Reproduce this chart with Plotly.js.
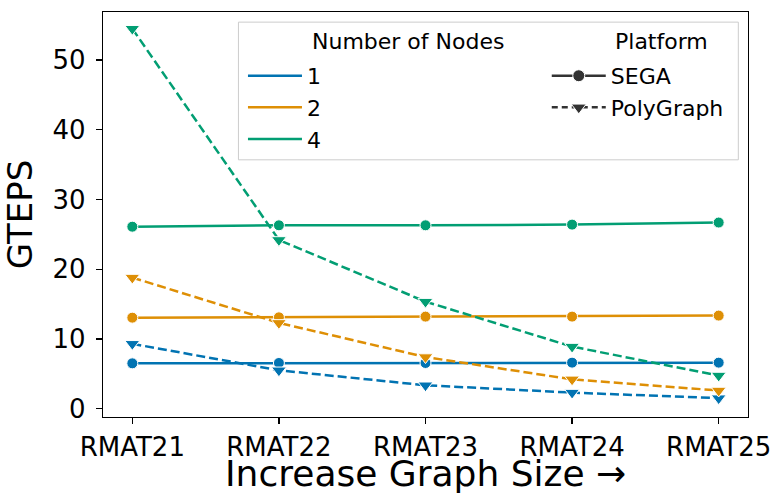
<!DOCTYPE html>
<html>
<head>
<meta charset="utf-8">
<script src="https://cdn.plot.ly/plotly-3.0.1.min.js"></script>
<style>html,body{margin:0;padding:0;background:#fff;}#chart{width:776px;height:497px;}</style>
</head>
<body>
<div id="chart"></div>
<script>
const categories = ["RMAT21", "RMAT22", "RMAT23", "RMAT24", "RMAT25"];
const nodeCounts = ["1", "2", "4"];
const platforms = ["SEGA", "PolyGraph"];
const sega1 = [6.5, 6.55, 6.55, 6.6, 6.6];
const sega2 = [13.05, 13.1, 13.2, 13.2, 13.35];
const sega4 = [26.1, 26.3, 26.3, 26.4, 26.7];
const poly1 = [9.3, 5.5, 3.35, 2.3, 1.5];
const poly2 = [18.8, 12.3, 7.4, 4.2, 2.6];
const poly4 = [54.5, 24.2, 15.35, 8.9, 4.75];
const xTitle = "Increase Graph Size \u2192";
const yTitle = "GTEPS";

const colors = {"1": "#0173b2", "2": "#de8f05", "4": "#029e73"};
const series = [
  {node: "1", platform: "SEGA", y: sega1},
  {node: "2", platform: "SEGA", y: sega2},
  {node: "4", platform: "SEGA", y: sega4},
  {node: "1", platform: "PolyGraph", y: poly1},
  {node: "2", platform: "PolyGraph", y: poly2},
  {node: "4", platform: "PolyGraph", y: poly4}
];
const dashStyle = "9px,4px";

const traces = series.map(s => ({
  type: "scatter", mode: "lines+markers",
  x: categories, y: s.y, showlegend: false, hoverinfo: "skip",
  line: {color: colors[s.node], width: 2.5, dash: s.platform === "SEGA" ? "solid" : dashStyle},
  marker: {color: colors[s.node], size: s.platform === "SEGA" ? 11 : 13,
           symbol: s.platform === "SEGA" ? "circle" : "triangle-down",
           line: {color: "#fff", width: 1}}
}));

nodeCounts.forEach(n => traces.push({
  type: "scatter", mode: "lines", x: [null], y: [null], name: n,
  legend: "legend", legendgroup: "n" + n, showlegend: true,
  line: {color: colors[n], width: 2.5}
}));
platforms.forEach(p => traces.push({
  type: "scatter", mode: "lines+markers", x: [null], y: [null], name: p,
  legend: "legend2", legendgroup: "p" + p, showlegend: true,
  line: {color: "#333333", width: 2.5, dash: p === "SEGA" ? "solid" : "6px,4px"},
  marker: {color: "#333333", size: p === "SEGA" ? 12 : 13, symbol: p === "SEGA" ? "circle" : "triangle-down",
           line: {color: "#fff", width: 1}}
}));

const font = "DejaVu Sans, sans-serif";
const layout = {
  width: 776, height: 497,
  margin: {l: 103, r: 28, t: 12, b: 80},
  paper_bgcolor: "#fff", plot_bgcolor: "#fff",
  font: {family: font, color: "#000"},
  xaxis: {
    type: "category", range: [-0.2, 4.2],
    showline: true, mirror: true, linecolor: "#000", linewidth: 1.3,
    ticks: "outside", ticklen: 6, tickwidth: 1.3, tickcolor: "#000",
    showgrid: false, zeroline: false,
    tickfont: {size: 26, family: font}
  },
  yaxis: {
    range: [-1.2, 56.9], tickvals: [0, 10, 20, 30, 40, 50],
    showline: true, mirror: true, linecolor: "#000", linewidth: 1.3,
    ticks: "outside", ticklen: 6, tickwidth: 1.3, tickcolor: "#000",
    showgrid: false, zeroline: false, ticklabelstandoff: 5,
    tickfont: {size: 26, family: font},
    title: {text: yTitle, font: {size: 34, family: font}, standoff: 11}
  },
  legend: {
    x: 0.217, y: 0.894, xanchor: "left", yanchor: "top",
    bgcolor: "rgba(0,0,0,0)", borderwidth: 0,
    font: {size: 22, family: font}, tracegroupgap: 0, itemwidth: 54
  },
  legend2: {
    x: 0.688, y: 0.894, xanchor: "left", yanchor: "top",
    bgcolor: "rgba(0,0,0,0)", borderwidth: 0,
    font: {size: 22, family: font}, tracegroupgap: 0, itemwidth: 54
  },
  shapes: [{
    type: "rect", xref: "paper", yref: "paper",
    x0: 0.21, x1: 0.985, y0: 0.635, y1: 0.975,
    line: {color: "#cccccc", width: 1}, fillcolor: "rgba(255,255,255,0.8)", layer: "below"
  }],
  annotations: [
    {xref: "paper", yref: "paper", x: 0.321, y: 0.963, xanchor: "left", yanchor: "top",
     text: "Number of Nodes", showarrow: false, font: {size: 22, family: font}},
    {xref: "paper", yref: "paper", x: 0.791, y: 0.963, xanchor: "left", yanchor: "top",
     text: "Platform", showarrow: false, font: {size: 22, family: font}},
    {xref: "paper", yref: "paper", x: 0.5, y: -0.1407, xanchor: "center", yanchor: "middle",
     text: xTitle, showarrow: false, font: {size: 36, family: font}}
  ]
};

Plotly.newPlot("chart", traces, layout, {displayModeBar: false, staticPlot: true});
</script>
</body>
</html>
